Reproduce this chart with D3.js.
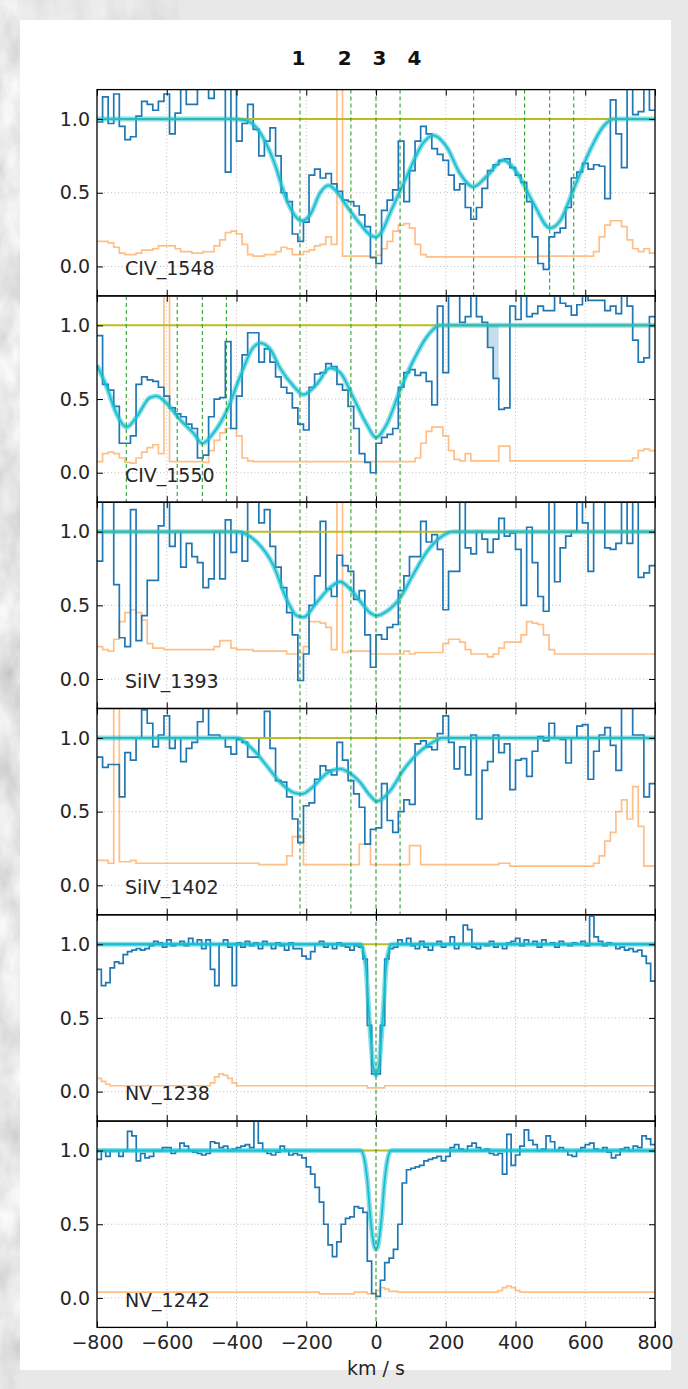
<!DOCTYPE html>
<html><head><meta charset="utf-8">
<script src="https://cdn.jsdelivr.net/npm/d3@7"></script>
<style>
html,body{margin:0;padding:0;background:#e7e7e7;}
svg{display:block;}
</style></head><body>
<svg id="chart" width="688" height="1389"></svg>
<script>
// ---------------- DATA ----------------
const velocityStart = -800;
const binCS = 16;     // km/s per bin, C IV / Si IV panels
const binN = 12.5;    // km/s per bin, N V panels

const panelNames = ["CIV_1548", "CIV_1550", "SiIV_1393", "SiIV_1402", "NV_1238", "NV_1242"];
const componentLabels = ["1", "2", "3", "4"];
const componentLabelVel = [-222, -90, 10, 110];

const xTicks = [-800, -600, -400, -200, 0, 200, 400, 600, 800];
const yTicks = [0.0, 0.5, 1.0];

const linesCIV1548 = [-218, -72, 0, 69, 280, 426, 498, 567];
const linesCIV1550 = [-716, -570, -498, -429, -218, -72, 0, 69];
const linesSiIV1393 = [-218, -72, 0, 69];
const linesSiIV1402 = [-218, -72, 0, 69];
const linesNV1238 = [0];
const linesNV1242 = [0];

const fluxCIV1548 = [0.98,1.15,0.97,1.17,0.95,0.86,0.88,1.02,1.12,1.10,
  1.06,1.12,1.17,0.90,1.04,1.25,1.10,1.10,1.25,1.25,
  1.14,1.25,1.25,0.64,1.25,0.85,0.97,1.10,0.93,0.75,
  0.85,0.94,0.75,0.50,0.44,0.22,0.17,0.30,0.62,0.66,
  0.60,0.63,0.56,0.51,0.45,0.44,0.41,0.35,0.27,0.06,
  0.02,0.38,0.45,0.52,0.85,0.44,0.65,0.85,0.95,0.90,
  0.80,0.76,0.72,0.62,0.52,0.56,0.40,0.32,0.40,0.53,
  0.65,0.69,0.72,0.73,0.67,0.62,0.57,0.44,0.20,0.02,
  -0.02,0.20,0.23,0.26,0.40,0.60,0.64,0.70,0.66,0.69,
  0.68,0.46,1.13,0.90,0.67,1.25,1.03,1.05,1.25,1.06];
const errCIV1548 = [0.17,0.17,0.16,0.13,0.09,0.08,0.08,0.09,0.11,0.11,
  0.12,0.14,0.14,0.14,0.12,0.10,0.10,0.09,0.09,0.10,
  0.10,0.14,0.18,0.23,0.24,0.22,0.15,0.08,0.07,0.07,
  0.08,0.08,0.10,0.13,0.12,0.08,0.08,0.10,0.11,0.14,
  0.15,0.20,0.15,1.30,0.07,0.07,0.07,0.07,0.07,0.065,
  0.075,0.12,0.17,0.24,0.28,0.29,0.26,0.15,0.08,0.065,
  0.065,0.065,0.065,0.065,0.065,0.065,0.065,0.065,0.065,0.065,
  0.065,0.065,0.065,0.065,0.065,0.065,0.065,0.065,0.065,0.07,
  0.07,0.07,0.07,0.07,0.07,0.07,0.07,0.07,0.07,0.10,
  0.20,0.28,0.31,0.31,0.27,0.18,0.12,0.10,0.12,0.09];
const modelCIV1548 = [[-800,1],[-420,1],[-371,0.99],[-333,0.91],[-294,0.72],[-256,0.45],[-237,0.36],[-213,0.31],
  [-189,0.35],[-160,0.50],[-137,0.55],[-113,0.51],[-84,0.41],[-46,0.29],[-15,0.21],[0,0.20],[15,0.23],[40,0.36],
  [88,0.61],[136,0.84],[164,0.89],[203,0.81],[241,0.63],[279,0.54],[317,0.61],[365,0.72],[403,0.64],[451,0.43],
  [499,0.26],[528,0.31],[566,0.52],[614,0.79],[652,0.95],[681,1.0],[800,1]];

const fluxCIV1550 = [0.93,0.60,0.56,0.45,0.20,0.20,0.25,0.60,0.65,0.63,
  0.62,0.58,0.52,0.44,0.40,0.38,0.33,0.30,0.10,0.12,
  0.38,0.50,0.51,0.89,0.30,0.52,0.80,0.95,0.95,0.75,
  0.84,0.75,0.65,0.58,0.54,0.44,0.33,0.29,0.58,0.67,
  0.68,0.74,0.72,0.60,0.56,0.45,0.30,0.13,0.07,0.00,
  0.20,0.24,0.26,0.30,0.58,0.68,0.70,0.66,0.68,0.62,
  0.46,1.13,0.68,1.25,1.25,1.02,1.06,1.25,1.06,1.02,
  0.85,0.64,0.43,0.44,1.13,1.04,1.25,1.06,1.08,1.13,
  1.10,1.10,1.25,1.15,1.13,1.07,1.14,1.20,1.17,1.17,
  1.17,1.10,1.13,1.08,1.25,1.13,0.90,0.75,0.78,1.06];
const errCIV1550 = [0.075,0.13,0.14,0.13,0.10,0.07,0.065,0.10,0.14,0.17,
  0.19,0.13,1.30,0.075,0.075,0.075,0.075,0.075,0.075,0.07,
  0.15,0.22,0.27,0.30,0.30,0.25,0.10,0.08,0.075,0.075,
  0.075,0.075,0.075,0.075,0.075,0.075,0.075,0.075,0.075,0.075,
  0.075,0.075,0.075,0.075,0.075,0.075,0.075,0.075,0.075,0.075,
  0.075,0.075,0.075,0.075,0.075,0.075,0.075,0.10,0.20,0.28,
  0.31,0.31,0.25,0.15,0.09,0.08,0.13,0.08,0.08,0.08,
  0.08,0.08,0.18,0.18,0.08,0.08,0.08,0.08,0.08,0.08,
  0.08,0.08,0.08,0.08,0.08,0.08,0.08,0.08,0.08,0.08,
  0.08,0.08,0.08,0.08,0.08,0.08,0.10,0.15,0.16,0.15];
const modelCIV1550 = [[-800,0.73],[-772,0.58],[-744,0.40],[-715,0.31],[-686,0.38],[-648,0.51],[-629,0.52],[-600,0.47],
  [-562,0.36],[-524,0.27],[-498,0.20],[-466,0.27],[-428,0.42],[-390,0.65],[-352,0.85],[-332,0.88],[-304,0.84],
  [-275,0.71],[-237,0.59],[-208,0.53],[-170,0.60],[-132,0.71],[-103,0.68],[-65,0.51],[-27,0.33],[0,0.24],
  [31,0.33],[69,0.56],[107,0.76],[145,0.92],[184,1.0],[800,1]];
const shadeCIV1550 = [320, 352];

const fluxSiIV1393 = [0.80,1.25,1.25,0.64,0.28,0.22,1.15,0.26,0.43,0.67,
  0.67,1.04,1.25,0.90,1.00,0.76,0.92,0.83,0.79,0.62,
  0.68,1.00,0.68,1.08,0.86,1.00,0.80,1.25,1.25,1.06,
  1.15,0.90,0.76,0.62,0.45,0.30,-0.01,0.17,0.50,0.70,
  1.07,0.61,0.56,0.84,0.77,0.73,0.54,0.60,0.30,0.08,
  0.30,0.27,0.35,0.37,0.60,0.70,0.83,0.83,1.07,0.93,
  0.98,0.88,0.47,0.73,0.73,1.25,0.89,0.85,1.00,0.95,
  0.86,0.95,1.09,0.97,0.99,0.88,0.50,1.03,0.79,0.56,
  0.46,1.25,0.66,0.89,0.97,1.00,1.25,1.06,0.73,1.25,
  1.25,0.89,0.88,0.92,1.25,0.92,1.25,0.69,0.72,0.77];
const errSiIV1393 = [0.22,0.20,0.19,0.27,0.39,0.45,0.47,0.45,0.40,0.24,
  0.21,0.21,0.20,0.20,0.20,0.20,0.20,0.20,0.20,0.20,
  0.20,0.22,0.26,0.26,0.21,0.20,0.20,0.20,0.19,0.19,
  0.19,0.19,0.19,0.19,0.17,0.17,0.18,0.22,0.39,0.39,
  0.38,0.35,0.20,1.30,0.18,0.19,0.19,0.19,0.19,0.17,
  0.17,0.17,0.17,0.17,0.17,0.19,0.17,0.18,0.18,0.18,
  0.18,0.18,0.24,0.27,0.27,0.25,0.20,0.17,0.17,0.17,
  0.15,0.17,0.21,0.25,0.25,0.25,0.30,0.39,0.38,0.37,
  0.30,0.20,0.17,0.17,0.17,0.17,0.17,0.17,0.17,0.17,
  0.17,0.17,0.17,0.17,0.17,0.17,0.17,0.17,0.17,0.17];
const modelSiIV1393 = [[-800,1],[-400,1],[-370,0.98],[-342,0.93],[-294,0.77],[-256,0.54],[-227,0.43],[-208,0.42],
  [-170,0.52],[-132,0.62],[-103,0.66],[-74,0.61],[-46,0.53],[-17,0.45],[2,0.43],[31,0.46],[69,0.55],[107,0.71],
  [145,0.86],[184,0.96],[222,1.0],[800,1]];

const fluxSiIV1402 = [0.87,0.80,0.82,0.82,0.60,0.90,0.85,1.00,1.19,1.10,
  0.94,1.02,1.15,0.93,1.00,0.84,0.93,0.97,1.11,1.25,
  1.02,1.02,1.00,0.94,0.89,0.99,0.97,0.87,0.87,1.00,
  1.18,0.93,0.71,0.70,0.60,0.45,0.29,0.54,0.56,0.72,
  0.81,0.78,0.75,0.97,0.85,0.71,0.62,0.53,0.28,0.38,
  0.39,0.69,0.44,0.36,0.50,0.58,0.55,0.96,0.98,0.94,
  0.92,1.03,1.15,0.97,0.79,0.94,0.75,1.02,0.45,0.78,
  0.84,1.02,0.90,0.96,0.65,0.85,0.86,0.74,0.91,1.01,
  0.98,1.10,1.00,0.99,0.83,1.00,1.08,1.09,0.72,0.91,
  1.02,1.07,0.95,0.78,1.25,1.25,1.02,1.02,0.60,0.69];
const errSiIV1402 = [0.17,0.17,0.15,1.30,0.16,0.16,0.17,0.15,0.15,0.15,
  0.15,0.15,0.15,0.15,0.15,0.15,0.15,0.15,0.15,0.15,
  0.15,0.15,0.15,0.15,0.15,0.15,0.15,0.15,0.15,0.14,
  0.14,0.14,0.14,0.14,0.20,0.33,0.33,0.14,0.14,0.14,
  0.14,0.14,0.14,0.14,0.14,0.14,0.14,0.28,0.28,0.14,
  0.14,0.14,0.14,0.14,0.14,0.14,0.27,0.27,0.14,0.14,
  0.14,0.14,0.14,0.14,0.14,0.14,0.14,0.14,0.14,0.14,
  0.14,0.14,0.15,0.15,0.13,0.13,0.13,0.13,0.13,0.13,
  0.13,0.13,0.13,0.13,0.13,0.13,0.13,0.13,0.13,0.15,
  0.20,0.30,0.36,0.50,0.58,0.45,0.67,0.40,0.13,0.13];
const modelSiIV1402 = [[-800,1],[-400,1],[-352,0.92],[-313,0.81],[-275,0.70],[-237,0.63],[-213,0.62],[-180,0.67],
  [-141,0.76],[-103,0.79],[-74,0.76],[-46,0.70],[-17,0.61],[2,0.57],[40,0.64],[78,0.78],[117,0.89],[155,0.96],
  [193,1.0],[800,1]];

const fluxNV1238 = [0.83,0.72,0.74,0.84,0.88,0.87,0.93,0.95,0.96,0.97,
  0.96,0.97,0.99,1.02,1.01,0.98,1.03,0.99,1.00,1.02,
  0.99,1.04,1.00,1.03,0.97,1.03,0.83,0.72,1.00,1.03,
  0.98,0.72,1.01,0.98,1.02,0.99,1.01,0.97,1.02,1.00,
  0.97,1.01,0.99,0.96,1.01,0.97,0.97,0.92,0.90,0.95,
  1.00,1.02,0.98,1.00,0.97,1.01,0.99,0.98,0.96,0.99,
  0.98,0.90,0.45,0.12,0.12,0.45,0.90,0.97,0.98,1.03,
  1.00,1.04,0.99,0.97,1.02,0.98,0.96,1.00,1.02,0.98,
  1.00,1.05,0.97,1.00,1.13,1.10,0.98,0.97,1.00,0.99,
  1.02,0.98,1.00,0.97,1.01,1.02,1.04,0.99,1.03,1.00,
  1.02,0.98,1.03,1.00,1.01,0.98,1.02,1.00,0.99,1.01,
  1.00,1.02,0.99,1.19,1.05,1.02,0.99,1.01,1.00,0.97,
  0.98,0.96,0.97,0.95,0.96,0.92,0.87,0.75];
const errNV1238 = [0.09,0.07,0.05,0.04,0.04,0.04,0.04,0.04,0.04,0.04,
  0.04,0.04,0.04,0.04,0.04,0.04,0.04,0.04,0.04,0.04,
  0.04,0.04,0.04,0.04,0.04,0.04,0.06,0.10,0.12,0.11,
  0.09,0.06,0.04,0.04,0.04,0.04,0.04,0.04,0.04,0.04,
  0.04,0.04,0.04,0.04,0.04,0.04,0.04,0.04,0.04,0.04,
  0.04,0.04,0.04,0.04,0.04,0.04,0.04,0.04,0.04,0.04,
  0.04,0.04,0.025,0.025,0.025,0.025,0.04,0.04,0.04,0.04,
  0.04,0.04,0.04,0.04,0.04,0.04,0.04,0.04,0.04,0.04,
  0.04,0.04,0.04,0.04,0.04,0.04,0.04,0.04,0.04,0.04,
  0.04,0.04,0.04,0.04,0.04,0.04,0.04,0.04,0.04,0.04,
  0.04,0.04,0.04,0.04,0.04,0.04,0.04,0.04,0.04,0.04,
  0.04,0.04,0.04,0.04,0.04,0.04,0.04,0.04,0.04,0.04,
  0.04,0.04,0.04,0.04,0.04,0.04,0.04,0.04];
const modelNV1238 = [[-800,1],[-45,1],[-38,0.97],[-29,0.85],[-18,0.45],[-8,0.17],[0,0.11],[8,0.17],[18,0.45],
  [29,0.85],[38,0.97],[45,1],[800,1]];

const fluxNV1242 = [0.94,1.00,0.96,1.00,1.00,0.96,1.00,1.13,1.10,0.93,
  0.98,0.95,0.96,1.00,1.00,1.02,1.02,0.98,1.00,1.05,
  1.03,1.00,0.99,0.98,0.97,0.98,1.06,1.05,1.02,1.03,
  1.00,1.01,1.02,1.03,1.04,1.02,1.20,1.05,1.00,0.98,
  0.97,0.99,1.03,1.00,0.97,0.98,0.97,0.95,0.89,0.84,
  0.75,0.65,0.50,0.36,0.28,0.38,0.50,0.54,0.55,0.62,
  0.61,0.58,0.25,0.03,0.01,0.12,0.24,0.27,0.33,0.50,
  0.78,0.87,0.88,0.89,0.90,0.93,0.94,0.95,0.96,0.93,
  0.96,1.02,1.04,1.01,1.00,1.03,1.05,1.02,1.00,1.01,
  0.98,0.97,0.98,0.84,1.11,0.90,0.97,1.03,1.14,1.07,
  1.04,1.00,1.01,1.10,1.06,1.00,1.02,1.00,0.97,0.96,
  1.00,1.02,1.04,1.05,1.01,1.00,1.02,0.99,0.95,0.97,
  1.01,1.02,1.00,1.03,1.02,1.10,1.08,1.04];
const errNV1242 = [0.04,0.04,0.04,0.04,0.04,0.04,0.04,0.04,0.04,0.04,
  0.04,0.04,0.04,0.04,0.04,0.04,0.04,0.04,0.04,0.04,
  0.04,0.04,0.04,0.04,0.04,0.04,0.04,0.04,0.04,0.04,
  0.04,0.04,0.04,0.04,0.04,0.04,0.04,0.04,0.04,0.04,
  0.04,0.04,0.04,0.04,0.04,0.04,0.04,0.04,0.04,0.04,
  0.04,0.027,0.027,0.027,0.027,0.027,0.027,0.027,0.027,0.04,
  0.04,0.04,0.027,0.027,0.05,0.07,0.06,0.045,0.045,0.04,
  0.04,0.04,0.04,0.04,0.04,0.04,0.04,0.04,0.04,0.04,
  0.04,0.04,0.04,0.04,0.04,0.04,0.04,0.04,0.04,0.04,
  0.04,0.04,0.05,0.07,0.08,0.07,0.05,0.04,0.04,0.04,
  0.04,0.04,0.04,0.04,0.04,0.04,0.04,0.04,0.04,0.04,
  0.04,0.04,0.04,0.04,0.04,0.04,0.04,0.04,0.04,0.04,
  0.04,0.04,0.04,0.04,0.04,0.04,0.04,0.04];
const modelNV1242 = [[-800,1],[-44,1],[-35,0.96],[-25,0.80],[-15,0.52],[-6,0.36],[0,0.33],[6,0.36],[15,0.52],
  [25,0.80],[35,0.96],[44,1],[800,1]];

const panels = [
  {name: panelNames[0], bin: binCS, flux: fluxCIV1548, err: errCIV1548, model: modelCIV1548, lines: linesCIV1548},
  {name: panelNames[1], bin: binCS, flux: fluxCIV1550, err: errCIV1550, model: modelCIV1550, lines: linesCIV1550, shade: shadeCIV1550},
  {name: panelNames[2], bin: binCS, flux: fluxSiIV1393, err: errSiIV1393, model: modelSiIV1393, lines: linesSiIV1393},
  {name: panelNames[3], bin: binCS, flux: fluxSiIV1402, err: errSiIV1402, model: modelSiIV1402, lines: linesSiIV1402},
  {name: panelNames[4], bin: binN, flux: fluxNV1238, err: errNV1238, model: modelNV1238, lines: linesNV1238},
  {name: panelNames[5], bin: binN, flux: fluxNV1242, err: errNV1242, model: modelNV1242, lines: linesNV1242}
];

// ---------------- LAYOUT ----------------
const plotLeft = 97, plotRight = 655;
const firstTop = 89.6, panelH = 206.3;
const FONT = "'DejaVu Sans', sans-serif";
const FS = 19;

const svg = d3.select("#chart");
const defs = svg.append("defs");

// textured page background
const filt = defs.append("filter").attr("id", "marble").attr("x", 0).attr("y", 0).attr("width", "100%").attr("height", "100%");
filt.append("feTurbulence").attr("type", "fractalNoise").attr("baseFrequency", "0.035 0.02").attr("numOctaves", 4).attr("seed", 7);
filt.append("feColorMatrix").attr("type", "matrix")
  .attr("values", "0.55 0 0 0 0.52  0.55 0 0 0 0.52  0.55 0 0 0 0.52  0 0 0 0 1");
svg.append("rect").attr("x", 0).attr("y", 0).attr("width", 688).attr("height", 1389).attr("fill", "#e8e8e8");
svg.append("rect").attr("x", 0).attr("y", 0).attr("width", 22).attr("height", 1389).attr("filter", "url(#marble)");
svg.append("rect").attr("x", 0).attr("y", 0).attr("width", 180).attr("height", 22).attr("filter", "url(#marble)").attr("opacity", 0.5);
svg.append("rect").attr("x", 20).attr("y", 20).attr("width", 651).attr("height", 1350).attr("fill", "#ffffff");

const x = d3.scaleLinear().domain([-800, 800]).range([plotLeft, plotRight]);

// header component labels
svg.append("g").selectAll("text").data(componentLabels).join("text")
  .attr("x", (d, i) => x(componentLabelVel[i])).attr("y", 65)
  .attr("text-anchor", "middle").attr("font-family", FONT).attr("font-weight", "bold")
  .attr("font-size", 20).attr("fill", "#111").text(d => d);

panels.forEach((p, k) => {
  const top = firstTop + k * panelH, bottom = top + panelH;
  const y = d3.scaleLinear().domain([-0.2, 1.2]).range([bottom, top]);
  const g = svg.append("g");
  const cid = "clip" + k;
  defs.append("clipPath").attr("id", cid).append("rect")
    .attr("x", plotLeft).attr("y", top).attr("width", plotRight - plotLeft).attr("height", panelH);
  const inner = g.append("g").attr("clip-path", `url(#${cid})`);

  // grid
  inner.selectAll("line.gx").data(xTicks.slice(1, -1)).join("line")
    .attr("x1", d => x(d)).attr("x2", d => x(d)).attr("y1", top).attr("y2", bottom)
    .attr("stroke", "#b8b8b8").attr("stroke-width", 0.9).attr("stroke-dasharray", "1,2.5");
  inner.selectAll("line.gy").data(yTicks).join("line")
    .attr("x1", plotLeft).attr("x2", plotRight).attr("y1", d => y(d)).attr("y2", d => y(d))
    .attr("stroke", "#b8b8b8").attr("stroke-width", 0.9).attr("stroke-dasharray", "1,2.5");

  const toSteps = arr => {
    const pts = arr.map((d, i) => [velocityStart + p.bin * i, d]);
    pts.push([velocityStart + p.bin * arr.length, arr[arr.length - 1]]);
    return pts;
  };
  const stepLine = d3.line().x(d => x(d[0])).y(d => y(d[1])).curve(d3.curveStepAfter);

  // shaded region
  if (p.shade) {
    const pts = toSteps(p.flux).filter(d => d[0] >= p.shade[0] && d[0] <= p.shade[1]);
    const area = d3.area().x(d => x(d[0])).y0(y(1)).y1(d => y(d[1])).curve(d3.curveStepAfter);
    inner.append("path").attr("d", area(pts)).attr("fill", "#1f77b4").attr("opacity", 0.25);
  }

  // error spectrum
  inner.append("path").attr("d", stepLine(toSteps(p.err)))
    .attr("fill", "none").attr("stroke", "#ff7f0e").attr("stroke-opacity", 0.5).attr("stroke-width", 1.7);
  // flux
  inner.append("path").attr("d", stepLine(toSteps(p.flux)))
    .attr("fill", "none").attr("stroke", "#1f77b4").attr("stroke-width", 1.7);
  // continuum
  inner.append("line").attr("x1", plotLeft).attr("x2", plotRight).attr("y1", y(1)).attr("y2", y(1))
    .attr("stroke", "#bcbd22").attr("stroke-width", 2);
  // model
  const mLine = d3.line().x(d => x(d[0])).y(d => y(d[1])).curve(d3.curveMonotoneX);
  inner.append("path").attr("d", mLine(p.model)).attr("fill", "none")
    .attr("stroke", "#17becf").attr("stroke-opacity", 0.5).attr("stroke-width", 5);
  inner.append("path").attr("d", mLine(p.model)).attr("fill", "none")
    .attr("stroke", "#17becf").attr("stroke-width", 1.8);
  // component markers
  inner.selectAll("line.comp").data(p.lines).join("line")
    .attr("x1", d => x(d)).attr("x2", d => x(d)).attr("y1", top).attr("y2", bottom)
    .attr("stroke", "#2ca02c").attr("stroke-width", 1.1).attr("stroke-dasharray", "4,3");

  // axes (inward ticks)
  const ax = (gen) => g.append("g").call(gen).call(s => s.select(".domain").remove());
  const bAx = ax(d3.axisBottom(x).tickValues(xTicks).tickSize(-6).tickPadding(8)
      .tickFormat(k === panels.length - 1 ? d3.format("d") : () => ""));
  bAx.attr("transform", `translate(0,${bottom})`);
  const tAx = ax(d3.axisTop(x).tickValues(xTicks).tickSize(-6).tickFormat(() => ""));
  tAx.attr("transform", `translate(0,${top})`);
  const lAx = ax(d3.axisLeft(y).tickValues(yTicks).tickSize(-6).tickPadding(7).tickFormat(d3.format(".1f")));
  lAx.attr("transform", `translate(${plotLeft},0)`);
  const rAx = ax(d3.axisRight(y).tickValues(yTicks).tickSize(-6).tickFormat(() => ""));
  rAx.attr("transform", `translate(${plotRight},0)`);
  g.selectAll(".tick line").attr("stroke", "#000").attr("stroke-width", 1);
  g.selectAll(".tick text").attr("font-family", FONT).attr("font-size", FS).attr("fill", "#262626");

  // frame
  g.append("rect").attr("x", plotLeft).attr("y", top).attr("width", plotRight - plotLeft).attr("height", panelH)
    .attr("fill", "none").attr("stroke", "#000").attr("stroke-width", 1.3);

  // panel label
  g.append("text").attr("x", plotLeft + 0.05 * (plotRight - plotLeft)).attr("y", bottom - 0.1 * panelH)
    .attr("font-family", FONT).attr("font-size", FS).attr("fill", "#262626").text(p.name);
});

svg.append("text").attr("x", x(0)).attr("y", 1375).attr("text-anchor", "middle")
  .attr("font-family", FONT).attr("font-size", FS).attr("fill", "#262626").text("km / s");
</script>
</body></html>
